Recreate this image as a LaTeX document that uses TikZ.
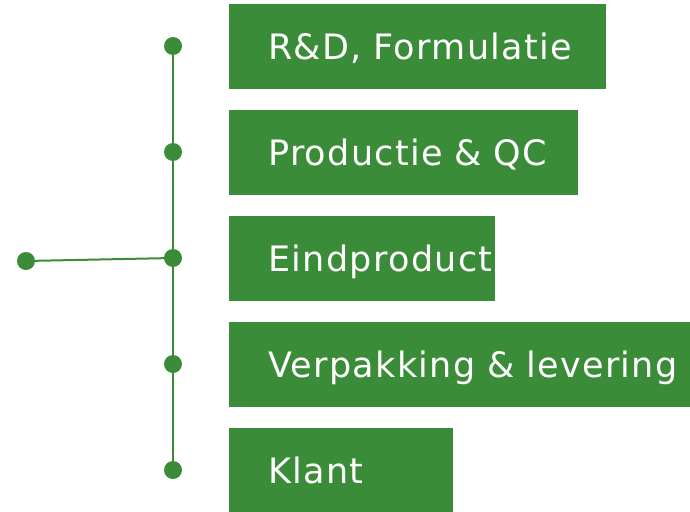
\documentclass[tikz,border=0pt]{standalone}
\usepackage{fontspec}
\setmainfont{DejaVu Sans}
\newfontfamily\boxfont[LetterSpace=3.8]{DejaVu Sans}
\definecolor{grn}{RGB}{59,140,57}
\begin{document}
\begin{tikzpicture}[x=1pt,y=-1pt,
  dot/.style={circle,fill=grn,inner sep=0pt,minimum size=18pt},
  box/.style={fill=grn,anchor=north west,minimum height=85pt,inner xsep=0pt,inner ysep=0pt,
    align=left,text=white,font=\boxfont\fontsize{35}{38}\selectfont,text height=26pt,text depth=0pt},
  link/.style={draw=grn,line width=2pt}]
\useasboundingbox (0,0) rectangle (690,511);
\node[box,text width=377pt] (b1) at (229,4) {\hspace*{39pt}R\&D, Formulatie};
\node[box,text width=349pt] (b2) at (229,110) {\hspace*{39pt}Productie \& QC};
\node[box,text width=266pt] (b3) at (229,216) {\hspace*{39pt}Eindproduct};
\node[box,text width=461pt] (b4) at (229,322) {\hspace*{39pt}Verpakking \& levering};
\node[box,text width=224pt] (b5) at (229,428) {\hspace*{39pt}Klant};
\node[dot] (d1) at (173,46) {};
\node[dot] (d2) at (173,152) {};
\node[dot] (d3) at (173,258) {};
\node[dot] (d4) at (173,364) {};
\node[dot] (d5) at (173,470) {};
\node[dot] (d0) at (26,261) {};
\draw[link] (d1.center) -- (d2.center) -- (d3.center) -- (d4.center) -- (d5.center);
\draw[link] (d0.center) -- (d3.center);
\end{tikzpicture}
\end{document}
